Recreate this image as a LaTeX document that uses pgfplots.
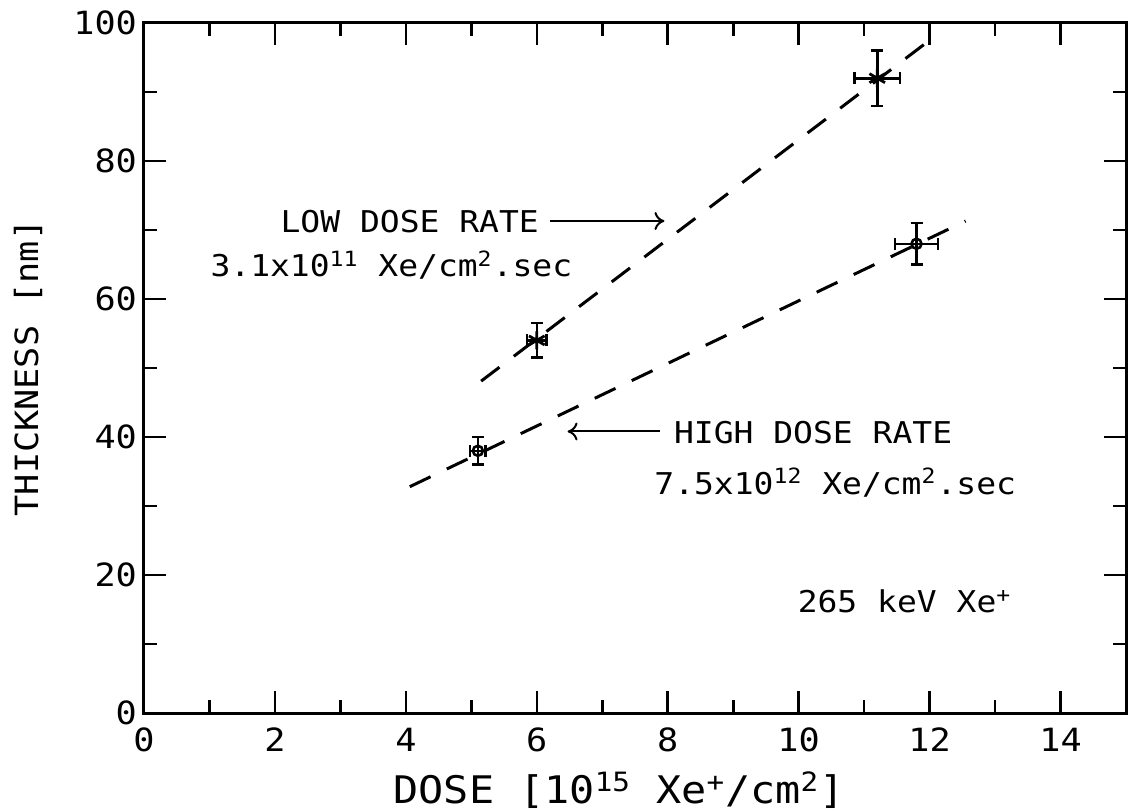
\documentclass[border=0pt]{standalone}
\usepackage{fontspec}
\setmainfont{DejaVu Sans Mono}[FakeStretch=1.1]
\usepackage{pgfplots}
\pgfplotsset{compat=1.18}
\usetikzlibrary{arrows.meta}
\begin{document}
\begin{tikzpicture}
\begin{axis}[
  scale only axis, width=491pt, height=345pt,
  xmin=0, xmax=15, ymin=0, ymax=100,
  xtick={0,2,...,14}, minor xtick={1,3,...,13},
  ytick={0,20,...,100}, minor ytick={10,30,...,90},
  tick align=inside, major tick length=11pt, minor tick length=6.5pt,
  axis line style={line width=1.5pt},
  every tick/.style={line width=1.3pt, black},
  tick label style={font=\fontsize{16}{19}\selectfont},
  xticklabel style={yshift=-4pt},
  /pgf/number format/assume math mode=true,
  xlabel={DOSE [10\textsuperscript{15} Xe\textsuperscript{+}/cm\textsuperscript{2}]},
  ylabel={THICKNESS [nm]},
  xlabel style={font=\fontsize{19}{22}\selectfont, at={(rel axis cs:0.5,0)}, anchor=center, yshift=-38.5pt, xshift=-8pt},
  ylabel style={font=\fontsize{16}{19}\selectfont, at={(rel axis cs:0,0.5)}, anchor=center, yshift=58pt},
  clip=false,
]
% dashed fit lines
\addplot[black, line width=1.5pt, dash pattern=on 11.5pt off 9pt] coordinates {(5.15,48.1) (12.0,97.5)};
\addplot[black, line width=1.5pt, dash pattern=on 11.5pt off 9pt] coordinates {(4.06,32.8) (12.55,71.3)};
% low dose rate data
\addplot[black, only marks, mark=asterisk, mark size=4.5pt, mark options={line width=1.4pt},
  error bars/.cd, x dir=both, x explicit, y dir=both, y explicit,
  error bar style={line width=1.3pt},
  error mark options={rotate=90, mark size=3pt, line width=1.3pt}]
  coordinates {(6.0,54) +- (0.15,2.5) (11.2,92) +- (0.35,4)};
% high dose rate data
\addplot[black, only marks, mark=o, mark size=2.5pt, mark options={line width=1.3pt},
  error bars/.cd, x dir=both, x explicit, y dir=both, y explicit,
  error bar style={line width=1.3pt},
  error mark options={rotate=90, mark size=3pt, line width=1.3pt}]
  coordinates {(5.1,38) +- (0.12,2) (11.8,68) +- (0.33,3)};
% annotations
\node[anchor=base west, inner sep=0pt, font=\fontsize{15}{18}\selectfont] at (axis cs:2.08,69.7) {LOW DOSE RATE};
\draw[line width=1pt, -{To[length=5pt, width=9pt]}] (axis cs:6.2,71.3) -- (axis cs:7.95,71.3);
\node[anchor=base west, inner sep=0pt, font=\fontsize{15}{18}\selectfont] at (axis cs:1.01,63.2) {3.1x10\textsuperscript{11} Xe/cm\textsuperscript{2}.sec};
\node[anchor=base west, inner sep=0pt, font=\fontsize{15}{18}\selectfont] at (axis cs:8.09,39.1) {HIGH DOSE RATE};
\draw[line width=1pt, -{To[length=5pt, width=9pt]}] (axis cs:7.88,40.8) -- (axis cs:6.47,40.8);
\node[anchor=base west, inner sep=0pt, font=\fontsize{15}{18}\selectfont] at (axis cs:7.79,31.7) {7.5x10\textsuperscript{12} Xe/cm\textsuperscript{2}.sec};
\node[anchor=base west, inner sep=0pt, font=\fontsize{15}{18}\selectfont] at (axis cs:9.98,14.5) {265 keV Xe\textsuperscript{+}};
\end{axis}
\pgfresetboundingbox
\path (-72pt,-48.5pt) rectangle (493pt,356.5pt);
\end{tikzpicture}
\end{document}
